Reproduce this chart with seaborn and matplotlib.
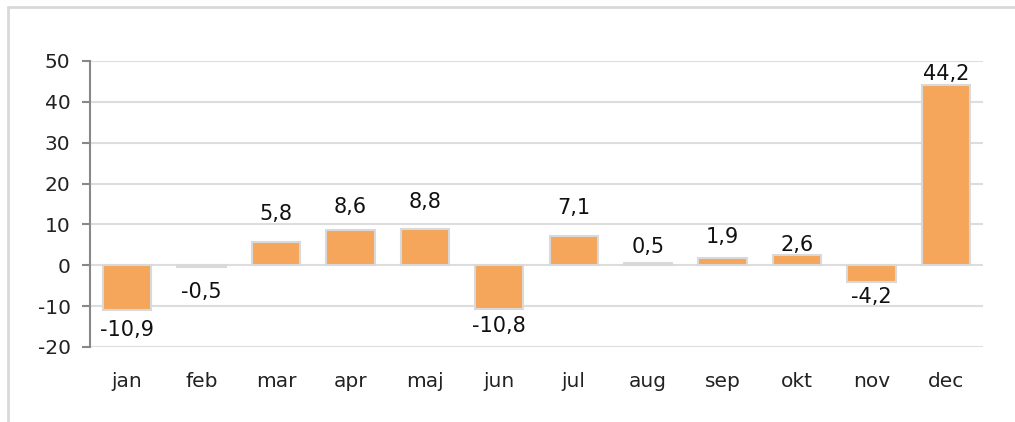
import matplotlib
matplotlib.use("Agg")
import matplotlib.pyplot as plt
import seaborn as sns
import pandas as pd
from matplotlib.lines import Line2D

months = ["jan", "feb", "mar", "apr", "maj", "jun", "jul", "aug", "sep", "okt", "nov", "dec"]
values = [-10.9, -0.5, 5.8, 8.6, 8.8, -10.8, 7.1, 0.5, 1.9, 2.6, -4.2, 44.2]
yticks = [-20, -10, 0, 10, 20, 30, 40, 50]

# styling: gap (in pixels) between bar end and its value label, as placed in the original
label_gap_px = [13, 17, 22, 17, 21, 9, 22, 10, 15, 4, 7, 5]

sns.set_theme(style="white")
plt.rcParams['font.family'] = ['DejaVu Sans']

df = pd.DataFrame({"month": months, "value": values})

fig = plt.figure(figsize=(10.15, 4.22), dpi=100)
ax = fig.add_axes([90/1015, 1-347/422, (983-90)/1015, (347-61)/422])

sns.barplot(data=df, x="month", y="value", color="#F5A65B", saturation=1,
            width=0.65, edgecolor="#D9D9D9", linewidth=1.5, ax=ax, zorder=3)

ax.set_ylim(-20, 50)
ax.set_yticks(yticks)
ax.set_yticklabels([str(t) for t in yticks], fontsize=14.5, color="#222222")
ax.grid(axis="y", color="#DDDDDD", linewidth=1.5, zorder=0)
ax.set_axisbelow(True)
ax.set_xlabel("")
ax.set_ylabel("")
for s in ["top", "right", "bottom"]:
    ax.spines[s].set_visible(False)
ax.spines["left"].set_color("#888888")
ax.spines["left"].set_linewidth(1.5)
ax.tick_params(axis="y", which="both", left=True, length=6, width=1.5, color="#888888", pad=8)
ax.tick_params(axis="x", bottom=False, labelsize=14.5, labelcolor="#222222", pad=12)
ax.set_xlim(-0.5, 11.5)

for i, v in enumerate(values):
    lab = f"{v:.1f}".replace(".", ",")
    gap = label_gap_px[i] * 0.72
    if v >= 0:
        ax.annotate(lab, (i, v), xytext=(0, gap), textcoords="offset points",
                    ha="center", va="baseline", fontsize=15, color="#111111")
    else:
        ax.annotate(lab, (i, v), xytext=(0, -gap + 2), textcoords="offset points",
                    ha="center", va="top", fontsize=15, color="#111111")

fig.add_artist(Line2D([7.5/1015, 1], [1-7/422, 1-7/422], color="#D9D9D9", linewidth=2, transform=fig.transFigure))
fig.add_artist(Line2D([7.5/1015, 7.5/1015], [0, 1-7/422], color="#D9D9D9", linewidth=2, transform=fig.transFigure))

fig.savefig("out.png", dpi=100)
